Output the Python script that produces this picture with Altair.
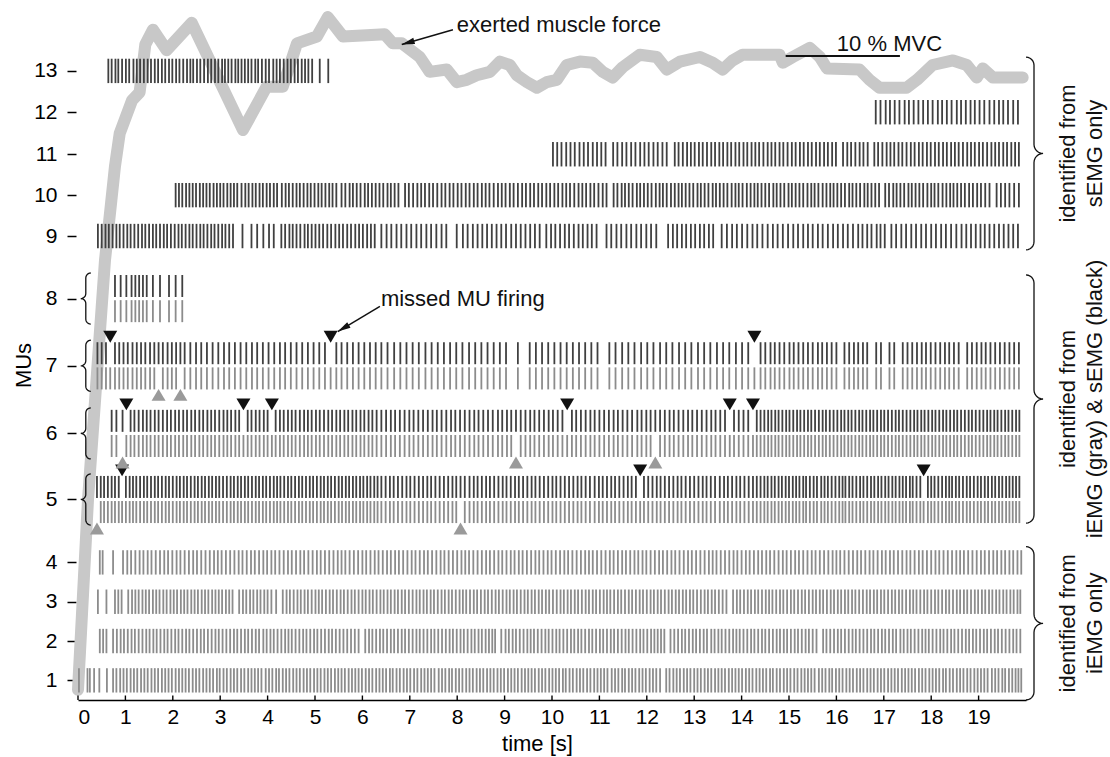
import numpy as np
import pandas as pd
import altair as alt

alt.data_transformers.disable_max_rows()

FONT = "Liberation Sans"

# ------------------------------------------------------------------
# Motor-unit discharge trains.
# Each train is a list of runs: (first discharge [cs], inter-spike
# intervals [cs]); a new run starts after each pause in firing.
# ------------------------------------------------------------------
MU1 = [(2, """
18 5 9 11 16 13
7 8 7 7 8 7 7 8 7 7
8 7 7 8 7 7 7 8 7 7
7 7 8 7 7 8 7 7 7 8
6 8 7 8 7 7 8 7 8 7
7 7 7 9 7 7 8 6 8 7
7 8 7 7 8 7 7 8 7 7
8 7 7 8 7 7 7 8 7 7
7 7 8 7 7 8 7 7 7 8
6 8 7 8 7 7 8 7 8 7
7 7 7 9 7 7 8 6 8 7
7 8 7 7 8 7 7 8 7 7
8 7 7 8 7 7 7 8 7 7
7 7 8 7 7 8 7 7 7 8
6 8 7 8 7 7 8 7 8 7
7 7 7 9 7 7 8 6 8 7
7 8 7 7 8 7 7 8
13
7 8 7 7 8 7 7 8 7 7
8 7 7 8 7 7 7 8 7 7
7 7 8 7 7 8 7 7 7 8
6 8 7 8 7 7 8 7 8 7
7 7 7 9 7 7 8 6 8 7
7 8 7 7 8 7 7 8 7 7
8 7 7 8 7 7 7 8 7 7
7 7 8 7 7 8 7 7 7 8
6 8 7 8 7 7 8 7 8 7
7 7 7 9 7 7 8 6 8 7
7 6 6
""")]

MU2 = [(46, """
7 7 14
8 8 7 8 8 7 8 8 8 7
8 7 8 8 7 8 8 7 8 8
7 8 8 8 7 8 8 8 7 8
8 8 8 7 8 8 7 8 8 7
9 7 8 7 8 8 8 7 7 8
8 8 7 8 8 7 8 8 8 7
8 8 8 8 8 8 8
14
8 7 8 8 7 8 8 7 8 8
7 8 8 8 7 8 8 8 7 8
8 8 8 7 8 8 7 8 8 7
8 7 8 7 7 6
13
9 7 8 7 8 8 8 7 7 8
8 8 7 8 8 7 8 8 8 7
8 7 8 8 7 8 8 7 8 8
7 8 8 8 7 8 8 8 7 8
8 7 7 7 7
13
8 8 8 7 8 8 7 8 8 7
9 7 8 7 8 8 8 7 7 8
8 8 7 8 8 7 8 8 8 7
8 7 8 8 7 8 8 7 8 8
14
7 8 8 8 7 8 8 8 7 8
8 8 8 7 8 8 7 8 8 7
9 7 8 7 8 8 8 7 7 8
8 8 7 8 8 7 8 8 8 7
8 7 8 8 7 8 8 7 8 8
8 8 7 8
""")]

MU3 = [(42, """
18 18 7 7 14
8 7 7 8 7 7 8 7 7 8
7 8 7 7 8 7 7 8 7 7
8 7 7 8 7 7 7 8 7 7
14
8 7 8 7 8 7 8 7 8 10
14
8 7 8 8 7 8 7 8 8 7
7 8 8 7 8 8 7 8 8 7
8 8 7 8 7 8 8 7 8 7
8 7 8 7 8 8 8 7 8 7
8 7 8 8 7 8 7 8 8 7
7 8 8 7 8 8 7 8 8 7
8 8 7 8 7 8 8 7 8 7
8 7 8 7 8 8 8 7 8 7
8 7 8 8 7 8 7 8 8 7
7 8 8 7 8 8 7 8 8 7
8 8 7 8 7 8 8 7 8 7
8 7 8 7 8 8 8 7 8 7
8 8 8
14
8 7 8 8 7 8 7 8 8 7
7 8 8 7 8 8 7 8 8 7
8 8 7 8 7 8 8 7 8 7
8 7 8 7 8 8 8 7 8 7
8 7 8 8 7 8 7 8 8 7
7 8 8 7 8 8 7 8 8 7
8 8 7 8 7 8 8 7 8 7
8 7 8 7 8 7 8 7 8 6
""")]

MU4 = [(46, """
6 22 21
9 8 9 9 8 9 8 9 9 9
8 9 9 8 9 9 9 8 9 9
9 9 8 8 9 9 9 9 8 9
9 8 9 9 8 9 8 9 9 9
8 9 9 8 9 9 9 8 9 9
9 9 8 8 9 9 9 9 8 9
9 8 9 9 8 9 8 9 9 9
8 9 9 8 9 9 9 8 9 9
9 9 8 8 9 9 9 9 8 9
9 8 9 9 8 9 8 9 9 9
8 9 9 8 9 9 9 8 9 9
9 9 8 8 9 9 9 9 8 9
9 8 9 9 8 9 8 9 9 9
8 9 9 8 9 9 9 8 9 9
9 9 8 8 9 9 9 9 8 9
9 8 9 9 8 9 8 9 9 9
8 9 9 8 9 9 9 8 9 9
9 9 8 8 9 9 9 9 8 9
9 8 9 9 8 9 8 9 9 9
8 9 9 8 9 9 9 8 9 9
9 9 8 8 9 9 9 9 8 9
9 8 9 8 9 8 9 8
""")]

MU5 = [(40, """
8 7 8 8 7 8 7 8 8 7
7 8 8 7 8 8 7 8 8 7
8 8 7 8 7 8 8 7 8 7
8 7 8 7 8 8 8 7 8 7
8 7 8 8 7 8 7 8 8 7
7 8 8 7 8 8 7 8 8 7
8 8 7 8 7 8 8 7 8 7
8 7 8 7 8 7 8 7 8
9 9 8 9 9 9 8 9 9 9
9 8 9 9 9 9 9 8 9 9
10 9 8 9 9 8 9 9 9 8
9 9 8 9 9 9 8 9 9 9
9 8 9 9 9 9 9 8 9 9
10 9 8 9 9 8 9 9 9 8
9 9 8 9 9 9 8 9 9 9
9 8 9 9 9 9 9 8 9 9
10 9 8 9 9 8 9 9 9 8
8
8 7 8 7 8 7 8 7 8 7
7 8 6 8 8 7 9 7 7 8
8 8 7 6 8 7 8 8 7 8
8 7 8 7 8 7 8 7 8 7
7 8 6 8 8 7 9 7 7 8
8 8 7 6 8 7 8 8 7 8
8 7 8 7 8 7 8 7 8 7
7 7 7
""")]

MU6 = [(71, """
10 13 8 9
8 9 9 8 8 9 8 9 9 8
9 8 9 8 9 8 9 8 9 8
8 9 9 8 8 9 8 9 9 8
9 8 9 8 9 8 9 8 9 8
8 9 9 8 8 9 8 9 9 8
9 8 9 8 9 8 9 8 9 8
9 10
10 10 9 10 10 10 9 10 10 10
10 9 10 10 10 9 10 10 10 10
9 10 10 10 11 9 10 9 10 10
10 10 9 10 10 10 9 10 10 10
10 9 10 10 10 9 10 10 10 10
9 10 10 10 11 9 10 9 10 10
10 10 9 10 10 10 9 10 10 10
10 9 10 10 10 9 10 10 10 10
8 8
8 8 7 8 7 8 8 7 8 8
7 8 8 7 8 8 8 7 8 8
8 8 7 8 7 8 8 7 8 8
7 8 8 7 8 8 8 7 8 8
8 8 7 8 7 8 8 7 8 8
7 8 8 7 8 8 8 7 8 8
8 8 7 8 7 8 8 7 8 8
7
""")]

MU7 = [(41, """
9 9 9 10 9 9 9 10 9 9 9 10 9 9 9 10 9 9 9 9
12 12 11 12 12 12 12 11 12 12
12 12 11 12 12 12 12 11 12 12
12 12 12 12 12 12 12 11 12 12 12 12 12 12 12
13 14 13 13 13 13 14 13 13 13 13 13 13 14 13 13 13 13 13 13
25 25
13 13 13 13 13 13 13 13 13 13 13 25
13 14 13 13 14 13 13 14 13 13 14 13 13 14 13 13 14 13 13 14 13 13 13 13
10 11 9 10 10 11 9 10 10 10 10 11 9 10 10 10
17
10 10 9 10 9
19 10 18 10 18
10 10 10 10 9 10 10 10 10 9 10 10
18
10 10 10 9 10 10 10 10 10 10 10
""")]

MU8 = [(78, "12 12 11 8 8 8 8 13 15 19 14 14")]

MU9 = [
    (42, """
8 8 7 8 8 7 8 8 7 8
8 8 7 8 8 7 8 8 7 8
8 8 7 8 8 7 8 8 7 8
8 7 8 8 7 8 8
"""),
    (347, "19 12 13 12 10"),
    (429, """
8 9 7 8 8 9 7 8 8 8
8 9 8 9 8 8 9 8 9 8
8 9 8 8
"""),
    (640, "11 10 11 10 11 10 11 10 11 10 11"),
    (767, "10 22"),
    (812, "10 11 10 10 10 10 10 10 10 11 10 10 10 10 10 10"),
    (988, "10 9 10 10 9 10 10 9 10 9 10"),
    (1115, "10 11 10 11 10 11 10 11 10 11"),
    (1245, "10 9 10 9 10 9 10 9 10 9"),
    (1358, "11 11 10 11 11 11 10 11 11 11 10 11 11 11 10 11"),
    (1540, "10 11 10 11"),
    (1593, "10 11 10 11"),
    (1646, "9 10 9"),
    (1685, "8 9"),
    (1716, "10 11 10 11 10 11 10 11 10 11 10 11 11"),
    (1864, "10 10 10 10 9 10 10 10 10 10 10 10"),
]

MU10 = [
    (206, "7 7 8 7 7 7 8 7 7 7 8 7 7 7 8 7 7 7"),
    (345, "8 7 8 7 8 7 8 7 8 7"),
    (430, "8 7 8 8 7 8 8 7 8 8 7 8 8 7 8"),
    (556, "8 9 7 8 8 9 7 8 8 8 8 9 7 8 8"),
    (690, """
8 9 9 8 8 9 8 9 9 8
9 8 9 8 9 8 9 8 9 8
8 9 9 8 8 9 8 9 9 8
9 8 9 8 9 8 9 8 9 8
8 9 9 8 8 9 8 9 9 8
"""),
    (1130, """
8 9 7 8 8 9 7 8 8 8
9 8 7 8 9 8 8 7 8 8
8 9 7 8 8 9 7 8 8 8
9 8 7 8 9 8 8 7 8 8
8 9 7 8 8 9 7 8 8 8
9 8 7 8 9 8 8 7 8 8
8 9 7 8 8 9 7 8 8 8
"""),
    (1703, """
8 9 7 8 8 9 7 8 8 8
9 8 7 8 9 8 8 7 8 8
8 9 8 9 8 9 9
"""),
    (1938, "9 9 9 10 10"),
]

MU11 = [
    (1002, "9 9 10 9 9 10 9 9 10 9 9 9"),
    (1129, "9 10 9 10 9 10 9 9 10 9 10 9"),
    (1259, """
8 9 9 8 8 9 8 9 9 8
9 8 9 8 9 8 9 8 9 8
8 9 9 8 8 9 8 9 9 8
9 8 9 8 9 8 9 8 9 8
"""),
    (1614, "9 8 9 9 8 9"),
    (1680, """
8 9 9 8 8 9 8 9 9 8
9 8 9 8 9 8 9 8 9 8
8 9 9 8 8 9 8 9 9 8
8 9 8 9 8 8
"""),
]

MU12 = [(1683, """
10 11 9 10 10 11 9 10 10 10
10 10 11 9 10 10 11 9 10 10
9 10 10 11 10 10 9 10 11 10
""")]

MU13 = [
    (64, """
7 8 6 8 8 7 9 7 7 8
8 7 8 7 8 7 8 7 8 7
8 8 7 6 8 7 8 8 7 8
7 8 6 7 7 8 6 7 7 7
7 8 6 8 8 7 9 7 7 8
8 7 8 7 8 7 7 8
"""),
    (510, ""),
    (528, ""),
]

# Firings missed by one of the two decompositions [cs]
MISSED_SEMG = {5: [95, 1183, 1785], 6: [102, 352, 413, 1028, 1372, 1423], 7: [69, 528, 1423]}
MISSED_IEMG = {5: [40, 808], 6: [94, 922, 1218], 7: [174, 217]}

# Exerted force [% MVC] over time [s]
FORCE_T = [0.00, 0.21, 0.57, 0.78, 0.88, 1.14, 1.30, 1.42, 1.58, 1.87, 2.40, 3.48,
           3.98, 4.32, 4.62, 5.04, 5.27, 5.59, 6.09, 6.47, 6.64, 6.83, 7.21, 7.42,
           7.78, 7.99, 8.20, 8.41, 8.69, 8.90, 9.11, 9.26, 9.47, 9.68, 9.89, 10.10,
           10.31, 10.59, 10.86, 11.07, 11.28, 11.49, 11.85, 12.21, 12.42, 12.70, 13.12, 13.39,
           13.60, 13.81, 14.02, 14.80, 14.87, 15.08, 15.44, 15.65, 15.80, 16.49, 16.70, 16.91,
           17.48, 17.70, 18.03, 18.46, 18.75, 18.96, 19.09, 19.30, 19.93]
FORCE_F = [0.9, 17.5, 38.6, 46.8, 49.7, 52.6, 53.3, 57.5, 58.8, 57.0, 59.4, 50.0,
           53.8, 53.8, 57.6, 58.2, 59.9, 58.2, 58.3, 58.4, 57.6, 57.6, 56.4, 55.1,
           55.3, 54.2, 54.4, 54.8, 55.1, 56.0, 55.7, 54.8, 54.2, 53.7, 54.2, 54.4,
           55.7, 56.0, 55.9, 55.1, 54.6, 55.5, 56.6, 56.4, 55.3, 56.0, 56.4, 55.9,
           55.3, 56.1, 56.6, 56.6, 55.9, 56.4, 57.2, 56.4, 55.4, 55.3, 54.4, 53.7,
           53.7, 54.4, 55.7, 56.1, 55.7, 54.6, 55.4, 54.6, 54.6]

# ------------------------------------------------------------------
# Layout
# ------------------------------------------------------------------
W, H = 948, 692
X_DOM = [0, 20]
Y_DOM = [0.5, 18.1]
F_DOM = [0, 60.7]
PXX = W / (X_DOM[1] - X_DOM[0])
PXY = H / (Y_DOM[1] - Y_DOM[0])
PXF = H / (F_DOM[1] - F_DOM[0])

MU_IDS = list(range(1, 14))
LANE = {1: 1.0, 2: 2.0, 3: 3.0, 4: 4.0, 5: 5.6, 6: 7.28, 7: 9.0, 8: 10.71,
        9: 12.3, 10: 13.34, 11: 14.38, 12: 15.45, 13: 16.5}
SINGLE_HALF = 0.31
PAIR_OFF, PAIR_HALF = 0.32, 0.28
MARK_OFF = 0.74

DARK, GRAY = "#404040", "#8c8c8c"
INK = "#111111"


def decode(runs):
    times = []
    for start, isis in runs:
        t = start
        times.append(t)
        for d in isis.split():
            t += int(d)
            times.append(t)
    return np.array(times, dtype=float) / 100.0


def remove_missed(times, missed_cs):
    keep = list(times)
    removed = []
    for m in missed_cs:
        i = int(np.argmin(np.abs(np.array(keep) - m / 100.0)))
        removed.append(keep.pop(i))
    return keep, removed


spike_rows, mark_rows = [], []


def add_train(times, mu, src, off, half):
    c = LANE[mu] + off
    for t in times:
        spike_rows.append({"t": round(float(t), 3), "y": round(c - half, 3),
                           "y2": round(c + half, 3), "src": src})


for mu, runs in {1: MU1, 2: MU2, 3: MU3, 4: MU4}.items():
    add_train(decode(runs), mu, "iEMG", 0.0, SINGLE_HALF)
for mu, runs in {9: MU9, 10: MU10, 11: MU11, 12: MU12, 13: MU13}.items():
    add_train(decode(runs), mu, "sEMG", 0.0, SINGLE_HALF)
for mu, runs in {5: MU5, 6: MU6, 7: MU7, 8: MU8}.items():
    full = decode(runs)
    semg, miss_s = remove_missed(full, MISSED_SEMG.get(mu, []))
    iemg, miss_i = remove_missed(full, MISSED_IEMG.get(mu, []))
    add_train(semg, mu, "sEMG", PAIR_OFF, PAIR_HALF)
    add_train(iemg, mu, "iEMG", -PAIR_OFF, PAIR_HALF)
    for t in miss_s:
        mark_rows.append({"t": t, "y": LANE[mu] + MARK_OFF, "kind": "sEMG"})
    for t in miss_i:
        mark_rows.append({"t": t, "y": LANE[mu] - MARK_OFF, "kind": "iEMG"})

spikes_df = pd.DataFrame(spike_rows)
marks_df = pd.DataFrame(mark_rows)
force_df = pd.DataFrame({"t": FORCE_T, "F": FORCE_F})

# Curly braces grouping the motor units
ARC = [0, 15, 30, 45, 60, 75, 90]


def brace(bid, x0, y_lo, y_hi, r, r2, sign):
    h = (y_hi - y_lo) / 2.0 * PXY
    ym = (y_hi + y_lo) / 2.0
    half = []
    for deg in ARC:
        a = np.radians(deg - 90)
        half.append((r * np.cos(a), -h + r + r * np.sin(a)))
    for deg in ARC:
        a = np.radians(180 - deg)
        half.append((r + r2 + r2 * np.cos(a), -r2 + r2 * np.sin(a)))
    pts = half + [(px, -py) for px, py in reversed(half)][1:]
    return [{"id": bid, "k": i, "x": x0 + sign * px / PXX, "y": ym - py / PXY}
            for i, (px, py) in enumerate(pts)]


GROUPS = [
    ("identified from\nsEMG only", LANE[9] - 0.35, LANE[13] + 0.35),
    ("identified from\niEMG (gray) & sEMG (black)", LANE[5] - 0.6, LANE[8] + 0.6),
    ("identified from\niEMG only", LANE[1] - 0.5, LANE[4] + 0.4),
]
brace_rows = []
for i, (_, lo, hi) in enumerate(GROUPS):
    brace_rows += brace(f"g{i}", 20.0, lo, hi, 8, 9, 1)
for mu in (5, 6, 7, 8):
    brace_rows += brace(f"p{mu}", 0.27, LANE[mu] - 0.65, LANE[mu] + 0.65, 5, 5, -1)
brace_df = pd.DataFrame(brace_rows)

# first text line sits at x, the second one follows to its right
group_df = pd.DataFrame({"label": [g[0] for g in GROUPS],
                         "x": [20.88] * 3,
                         "y": [(g[1] + g[2]) / 2 for g in GROUPS]})


def head_angle(x_tail, y_tail, x_tip, y_tip, pxy):
    dx = (x_tip - x_tail) * PXX
    dy = -(y_tip - y_tail) * pxy
    return float((np.degrees(np.arctan2(dx, -dy)) + 360) % 360)


# ------------------------------------------------------------------
# Scales, axes, marks
# ------------------------------------------------------------------
XS = alt.Scale(domain=X_DOM, nice=False, zero=False)
YS = alt.Scale(domain=Y_DOM, nice=False, zero=False)
FS = alt.Scale(domain=F_DOM, nice=False, zero=False)

lane_values = [LANE[m] for m in MU_IDS]
label_expr = "indexof([" + ",".join(str(v) for v in lane_values) + "], datum.value) + 1"

XAXIS = alt.Axis(values=list(range(20)), title="time [s]", grid=False, ticks=False,
                 tickSize=0, domainColor="black", domainWidth=1.5, labelPadding=6,
                 labelFontSize=21, labelColor="black", labelOverlap=False,
                 titleFontSize=22, titleColor="black", titleFontWeight="normal",
                 titleX=459, titleY=50, titleBaseline="alphabetic")
YAXIS = alt.Axis(values=lane_values, labelExpr=label_expr, title="MUs", grid=False,
                 domain=False, tickSize=9, tickWidth=1.5, tickColor="black", offset=2,
                 labelPadding=10, labelFontSize=21, labelColor="black", labelOverlap=False,
                 titleFontSize=22, titleColor="black", titleFontWeight="normal",
                 titleAngle=270, titleX=-53, titleY=357, titleBaseline="middle")

X = lambda f: alt.X(f, scale=XS, axis=XAXIS)
Y = lambda f: alt.Y(f, scale=YS, axis=YAXIS)
YF = lambda f: alt.Y(f, scale=FS, axis=None)

DOWN_PATH = "M-1,-0.85L1,-0.85L0,0.85Z"
UP_PATH = "M-1,0.85L1,0.85L0,-0.85Z"
HEAD_PATH = "M0,0L-0.45,1.8L0.45,1.8Z"

# --- force trace and its annotations
force_line = alt.Chart(force_df).mark_line(
    color="#c8c8c8", strokeWidth=12, strokeCap="round", strokeJoin="round"
).encode(x=X("t:Q"), y=YF("F:Q"))

f_tail, f_tip = (7.91, 58.8), (6.83, 57.5)
f_arrow_df = pd.DataFrame([{"x": f_tail[0], "y": f_tail[1], "x2": f_tip[0], "y2": f_tip[1]}])
f_arrow = alt.Chart(f_arrow_df).mark_rule(color=INK, strokeWidth=1.5).encode(
    x=X("x:Q"), y=YF("y:Q"), x2="x2:Q", y2="y2:Q")
f_head = alt.Chart(pd.DataFrame([{"x": f_tip[0], "y": f_tip[1]}])).mark_point(
    shape=HEAD_PATH, filled=True, size=207, color=INK, opacity=1, strokeWidth=0,
    angle=head_angle(*f_tail, *f_tip, PXF)
).encode(x=X("x:Q"), y=YF("y:Q"))
f_text = alt.Chart(pd.DataFrame([{"x": 7.99, "y": 59.2, "label": "exerted muscle force"}])).mark_text(
    align="left", baseline="middle", font=FONT, fontSize=22, color=INK
).encode(x=X("x:Q"), y=YF("y:Q"), text="label:N")

bar_df = pd.DataFrame([{"x": 14.93, "x2": 17.34, "y": 56.5}])
mvc_bar = alt.Chart(bar_df).mark_rule(color=INK, strokeWidth=2).encode(
    x=X("x:Q"), x2="x2:Q", y=YF("y:Q"))
mvc_text = alt.Chart(pd.DataFrame([{"x": 16.01, "y": 57.5, "label": "10 % MVC"}])).mark_text(
    align="left", baseline="middle", font=FONT, fontSize=22, color=INK
).encode(x=X("x:Q"), y=YF("y:Q"), text="label:N")

force_group = alt.layer(force_line, mvc_bar, mvc_text, f_arrow, f_head, f_text)

# --- discharge trains and their annotations
spikes = alt.Chart(spikes_df).mark_rule(strokeWidth=1.8).encode(
    x=X("t:Q"), y=Y("y:Q"), y2="y2:Q",
    color=alt.Color("src:N", scale=alt.Scale(domain=["sEMG", "iEMG"], range=[DARK, GRAY]),
                    legend=None))

braces = alt.Chart(brace_df).mark_line(color=INK, strokeWidth=1.3).encode(
    x=X("x:Q"), y=Y("y:Q"), detail="id:N", order="k:Q")

miss_down = alt.Chart(marks_df[marks_df["kind"] == "sEMG"]).mark_point(
    shape=DOWN_PATH, filled=True, size=196, color=INK, opacity=1, strokeWidth=0
).encode(x=X("t:Q"), y=Y("y:Q"))
miss_up = alt.Chart(marks_df[marks_df["kind"] == "iEMG"]).mark_point(
    shape=UP_PATH, filled=True, size=196, color="#9a9a9a", opacity=1, strokeWidth=0
).encode(x=X("t:Q"), y=Y("y:Q"))

m_tail, m_tip = (6.37, 10.51), (5.48, 9.87)
m_arrow_df = pd.DataFrame([{"x": m_tail[0], "y": m_tail[1], "x2": m_tip[0], "y2": m_tip[1]}])
m_arrow = alt.Chart(m_arrow_df).mark_rule(color=INK, strokeWidth=1.5).encode(
    x=X("x:Q"), y=Y("y:Q"), x2="x2:Q", y2="y2:Q")
m_head = alt.Chart(pd.DataFrame([{"x": m_tip[0], "y": m_tip[1]}])).mark_point(
    shape=HEAD_PATH, filled=True, size=207, color=INK, opacity=1, strokeWidth=0,
    angle=head_angle(*m_tail, *m_tip, PXY)
).encode(x=X("x:Q"), y=Y("y:Q"))
m_text = alt.Chart(pd.DataFrame([{"x": 6.39, "y": LANE[8], "label": "missed MU firing"}])).mark_text(
    align="left", baseline="middle", font=FONT, fontSize=22, color=INK
).encode(x=X("x:Q"), y=Y("y:Q"), text="label:N")

group_text = alt.Chart(group_df).mark_text(
    angle=270, align="center", baseline="middle", lineBreak="\n", lineHeight=27,
    font=FONT, fontSize=22, color=INK
).encode(x=X("x:Q"), y=Y("y:Q"), text="label:N")

x_ticks = alt.Chart(pd.DataFrame({"v": list(range(20))})).mark_rule(
    color="black", strokeWidth=1.4
).encode(x=X("v:Q"), y=alt.value(H), y2=alt.value(H - 4.5))

lane_group = alt.layer(spikes, braces, miss_down, miss_up, m_arrow, m_head, m_text,
                       group_text, x_ticks)

chart = (
    alt.layer(force_group, lane_group)
    .resolve_scale(y="independent")
    .properties(width=W, height=H,
                autosize=alt.AutoSizeParams(type="none"),
                padding={"left": 78, "top": 8, "right": 84, "bottom": 57})
    .configure_view(stroke=None)
    .configure_axis(labelFont=FONT, titleFont=FONT)
)

chart.save("out.html", embed_options={"renderer": "svg", "actions": False})
